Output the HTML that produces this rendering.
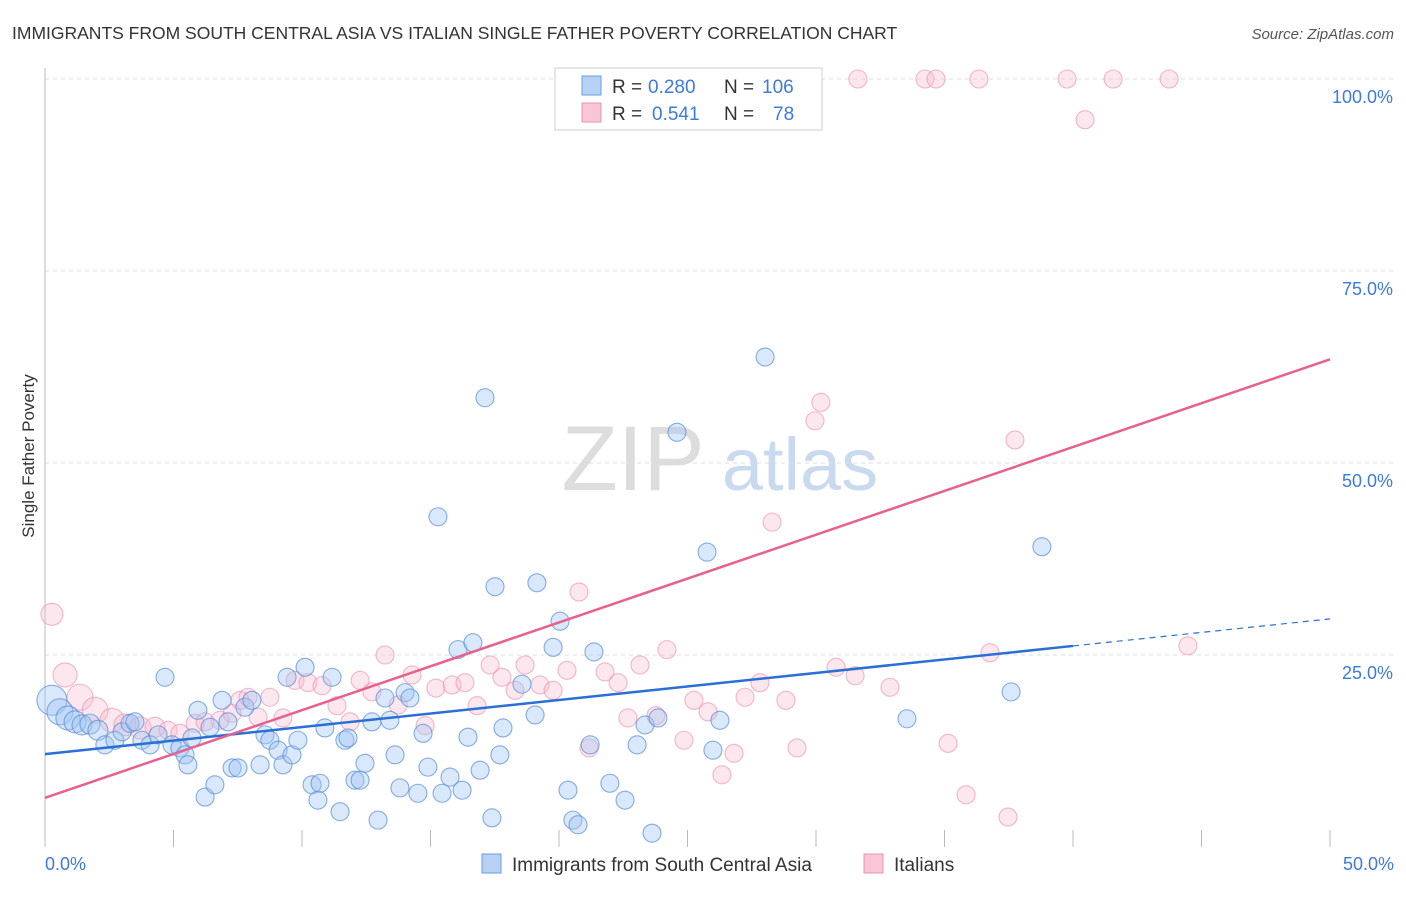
<!DOCTYPE html>
<html><head><meta charset="utf-8"><style>
body{margin:0;background:#fff;font-family:"Liberation Sans",sans-serif;}
svg text{font-family:"Liberation Sans",sans-serif;}
</style></head><body>
<svg id="chart" width="1406" height="892">
<text x="12" y="39" font-size="17.5" fill="#333">IMMIGRANTS FROM SOUTH CENTRAL ASIA VS ITALIAN SINGLE FATHER POVERTY CORRELATION CHART</text>
<text x="1394" y="39" font-size="15" fill="#555" font-style="italic" text-anchor="end">Source: ZipAtlas.com</text>
<text transform="translate(34,456) rotate(-90)" font-size="17" fill="#333" text-anchor="middle">Single Father Poverty</text>
<g><text x="633" y="490" font-size="92" fill="#ddd" font-family="Liberation Serif" text-anchor="middle">ZIP</text><text x="800" y="490" font-size="74" fill="#c9daf0" text-anchor="middle">atlas</text></g>
<g id="grid"></g><g id="axes"></g><g id="marks"></g>
<g>
<rect x="555" y="68" width="267" height="62" fill="#fff" stroke="#ccc"/>
<rect x="582" y="76" width="19" height="19" fill="#b7d1f5" stroke="#6a9de0"/>
<rect x="582" y="103" width="19" height="19" fill="#f9c6d5" stroke="#ec93ae"/>
<text x="612" y="93" font-size="19" fill="#333">R =</text>
<text x="648" y="93" font-size="19" fill="#3d7bd9">0.280</text>
<text x="724" y="93" font-size="19" fill="#333">N =</text>
<text x="762" y="93" font-size="19" fill="#3d7bd9">106</text>
<text x="612" y="120" font-size="19" fill="#333">R =</text>
<text x="652" y="120" font-size="19" fill="#3d7bd9">0.541</text>
<text x="724" y="120" font-size="19" fill="#333">N =</text>
<text x="773" y="120" font-size="19" fill="#3d7bd9">78</text>
</g>
<g>
<rect x="482" y="854" width="19" height="19" fill="#b7d1f5" stroke="#6a9de0"/>
<text x="512" y="871" font-size="19" fill="#333">Immigrants from South Central Asia</text>
<rect x="864" y="854" width="19" height="19" fill="#f9c6d5" stroke="#ec93ae"/>
<text x="894" y="871" font-size="19" fill="#333">Italians</text>
</g>
</svg>
<script>
const blueX=[0.27,0.58,0.89,1.17,1.44,1.75,2.06,2.33,2.72,3.0,3.31,3.5,3.77,4.09,4.4,4.67,4.94,5.25,5.45,5.56,5.72,5.95,6.23,6.42,6.61,6.89,7.12,7.28,7.51,7.78,8.05,8.37,8.56,8.75,9.07,9.26,9.42,9.61,9.84,10.12,10.39,10.62,10.7,10.89,11.17,11.48,11.67,11.79,12.06,12.26,12.45,12.72,12.96,13.23,13.42,13.62,13.81,14.01,14.2,14.51,14.71,14.9,15.29,15.45,15.76,16.07,16.23,16.46,16.65,16.93,17.12,17.39,17.51,17.7,17.82,18.56,19.07,19.14,19.77,20.04,20.35,20.54,20.74,21.21,21.36,21.98,22.57,23.04,23.35,23.62,23.85,24.59,25.76,25.99,26.26,28.02,33.54,37.59,38.79];
const blueY=[19.1,17.6,16.8,16.3,15.9,16.0,15.2,13.3,13.9,15.0,16.1,16.3,13.9,13.3,14.6,22.1,13.3,12.9,12.0,10.7,14.2,17.8,6.5,15.6,8.1,19.1,16.3,10.3,10.3,18.2,19.1,10.7,14.6,13.9,12.6,10.7,22.1,12.0,13.9,23.4,8.1,6.1,8.3,15.5,22.1,4.6,13.9,14.2,8.7,8.7,10.9,16.3,3.5,19.4,16.5,12.0,7.7,20.1,19.4,7.0,14.8,10.4,43.0,7.0,9.1,25.7,7.4,14.3,26.6,10.0,58.5,3.8,33.9,12.0,15.5,21.2,17.2,34.4,26.0,29.4,7.4,3.5,2.9,13.3,25.4,8.3,6.1,13.3,15.9,1.8,16.8,54.0,38.4,12.6,16.5,63.8,16.7,20.2,39.1];
const blueSize=[15,13,12,11,10,10,10];
const pinkX=[0.27,0.78,1.36,1.95,2.61,3.11,3.7,4.28,4.79,5.25,5.84,6.23,6.81,7.28,7.59,7.9,8.29,8.75,9.26,9.73,10.23,10.78,11.36,11.87,12.26,12.72,13.23,13.74,14.28,14.79,15.21,15.84,16.34,16.81,17.32,17.78,18.29,18.68,19.26,19.77,20.31,20.78,21.17,21.79,22.3,22.68,23.15,23.77,24.2,24.86,25.25,25.8,26.34,26.81,27.24,27.82,28.29,28.83,29.26,29.96,30.19,30.78,31.52,32.88,35.14,35.84,36.77,37.47,37.74,40.47,44.47,31.63,34.24,34.67,36.34,39.77,41.56,43.74];
const pinkY=[30.3,22.4,19.5,17.8,16.5,15.9,15.5,15.6,15.2,14.8,16.1,16.3,16.5,17.4,19.1,19.5,16.9,19.5,16.8,21.7,21.4,21.0,18.4,16.3,21.7,20.2,25.0,18.5,22.4,15.8,20.7,21.1,21.4,18.4,23.7,22.1,20.4,23.7,21.1,20.4,23.0,33.2,12.9,22.8,21.4,16.8,23.7,17.1,25.7,13.9,19.1,17.6,9.4,12.2,19.5,21.4,42.3,19.1,12.9,55.5,57.9,23.4,22.3,20.8,13.5,6.8,25.3,3.9,53.0,94.7,26.2,100,100,100,100,100,100,100];
const pinkSize=[11,12,13,13,12,11,11,10];
const yTicks=[100,75,50,25];
const yTickLabels=["100.0%","75.0%","50.0%","25.0%"];
const xTicks=[0,5,10,15,20,25,30,35,40,45,50];
const blueTrend=[12.1,29.7], blueSolidEnd=40;
const pinkTrend=[6.4,63.5];

const NS="http://www.w3.org/2000/svg";
const sx=v=>45+v*25.7, sy=v=>847-v*7.68;
function mk(parent,tag,attrs){const e=document.createElementNS(NS,tag);for(const k in attrs)e.setAttribute(k,attrs[k]);document.getElementById(parent).appendChild(e);return e;}
yTicks.forEach((t,i)=>{
  const l=mk('grid','line',{x1:45,x2:1394,y1:sy(t),y2:sy(t),stroke:'#ddd','stroke-dasharray':'4,4'});
  
  
  const tx=mk('grid','text',{x:1393,y:sy(t)+24,'font-size':18,fill:'#3d7bd9','text-anchor':'end'});
  tx.textContent=yTickLabels[i];
  
  
});
const ya=mk('axes','line',{x1:45,x2:45,y1:68,y2:847,stroke:'#bbb'});


xTicks.forEach(t=>{
  const l=mk('axes','line',{x1:sx(t),x2:sx(t),y1:830,y2:847,stroke:'#bbb'});
  
  
});
const x0=mk('axes','text',{x:45,y:870,'font-size':18,fill:'#3d7bd9'});x0.textContent='0.0%';


const x1=mk('axes','text',{x:1394,y:870,'font-size':18,fill:'#3d7bd9','text-anchor':'end'});x1.textContent='50.0%';



pinkX.forEach((x,i)=>{
  const c=mk('marks','circle',{cx:sx(x),cy:sy(pinkY[i]),r:pinkSize[i]||9,fill:'rgba(248,185,205,0.35)',stroke:'rgba(236,145,175,0.65)','stroke-width':1.1});
  
  
});
blueX.forEach((x,i)=>{
  const c=mk('marks','circle',{cx:sx(x),cy:sy(blueY[i]),r:blueSize[i]||9,fill:'rgba(160,198,242,0.4)',stroke:'rgba(85,140,215,0.7)','stroke-width':1.1});
  
  
});
const by=x=>blueTrend[0]+(blueTrend[1]-blueTrend[0])*x/50;
const bl=mk('marks','line',{x1:sx(0),y1:sy(by(0)),x2:sx(blueSolidEnd),y2:sy(by(blueSolidEnd)),stroke:'#2a6fd6','stroke-width':2.5});


const bd=mk('marks','line',{x1:sx(blueSolidEnd),y1:sy(by(blueSolidEnd)),x2:sx(50),y2:sy(by(50)),stroke:'#2a6fd6','stroke-width':1.2,'stroke-dasharray':'6,5'});


const pl=mk('marks','line',{x1:sx(0),y1:sy(pinkTrend[0]),x2:sx(50),y2:sy(pinkTrend[1]),stroke:'#e8608e','stroke-width':2.5});


</script>
</body></html>
